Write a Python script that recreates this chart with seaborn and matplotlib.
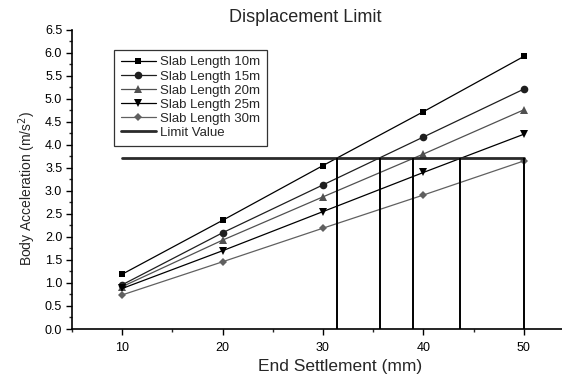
import matplotlib
matplotlib.use("Agg")
import matplotlib.pyplot as plt
import seaborn as sns
import pandas as pd
from matplotlib.ticker import MultipleLocator

sns.set_style("ticks")
plt.rcParams['font.family'] = ['Liberation Sans', 'DejaVu Sans']

settlement = [10, 20, 30, 40, 50]
slab_10 = [1.19, 2.36, 3.55, 4.72, 5.92]
slab_15 = [0.96, 2.09, 3.13, 4.17, 5.21]
slab_20 = [0.92, 1.93, 2.87, 3.80, 4.76]
slab_25 = [0.88, 1.70, 2.55, 3.40, 4.23]
slab_30 = [0.74, 1.46, 2.19, 2.91, 3.65]
series_names = ["Slab Length 10m", "Slab Length 15m", "Slab Length 20m",
                "Slab Length 25m", "Slab Length 30m"]
limit_value = 3.71
limit_x = [10, 50]
crossing_x = [31.4, 35.7, 39.0, 43.6, 50.0]

series = [slab_10, slab_15, slab_20, slab_25, slab_30]
markers = ["s", "o", "^", "v", "D"]
colors = ["#000000", "#1e1e1e", "#505050", "#000000", "#606060"]
msizes = [5, 5.5, 5.5, 5.5, 4.5]

fig = plt.figure(figsize=(5.62, 3.78), dpi=100)
ax = fig.add_axes([0.128, 0.1296, 0.872, 0.7918])

for name, vals, m, c, ms in zip(series_names, series, markers, colors, msizes):
    df = pd.DataFrame({"x": settlement, "y": vals})
    sns.lineplot(data=df, x="x", y="y", ax=ax, marker=m, color=c,
                 markersize=ms, markeredgewidth=0, linewidth=0.9, label=name)

sns.lineplot(x=limit_x, y=[limit_value, limit_value], ax=ax, color="#2a2a2a",
             linewidth=2.0, label="Limit Value")
ax.vlines(crossing_x, 0, limit_value, color="#000000", linewidth=1.4)

ax.set_xlim(5, 53.8)
ax.set_ylim(0, 6.5)
ax.xaxis.set_major_locator(MultipleLocator(10))
ax.xaxis.set_minor_locator(MultipleLocator(5))
ax.yaxis.set_major_locator(MultipleLocator(0.5))
ax.yaxis.set_minor_locator(MultipleLocator(0.25))
ax.set_xticks([10, 20, 30, 40, 50])
ax.set_xticklabels(["10", "20", "30", "40", "50"])
ax.yaxis.set_major_formatter(plt.FormatStrFormatter("%.1f"))
ax.tick_params(axis="both", which="major", direction="out", length=4, width=1,
               labelsize=9, colors="black", pad=3)
ax.tick_params(axis="x", which="major", pad=5)
ax.tick_params(axis="both", which="minor", direction="out", length=2.5, width=1)
for s in ["top", "right"]:
    ax.spines[s].set_visible(False)
for s in ["left", "bottom"]:
    ax.spines[s].set_linewidth(1.2)
    ax.spines[s].set_color("black")

ax.set_xlabel("End Settlement (mm)", fontsize=12.5)
ax.xaxis.set_label_coords((340 - 72) / 490, -0.1)
ax.set_ylabel("Body Acceleration (m/s$^2$)", fontsize=10)
ax.yaxis.set_label_coords(-0.07, 0.47)
fig.text(305 / 562, 1 - 17 / 378, "Displacement Limit",
         ha="center", va="center", fontsize=13)

leg = ax.legend(loc="upper left", bbox_to_anchor=((114 - 72) / 490, (329 - 49) / 300),
                fontsize=9.5, frameon=True, fancybox=False, edgecolor="black",
                borderpad=0.5, labelspacing=0.14, handlelength=2.7,
                handletextpad=0.3, borderaxespad=0)
leg.get_frame().set_linewidth(0.9)

fig.savefig("out.png", dpi=100)
